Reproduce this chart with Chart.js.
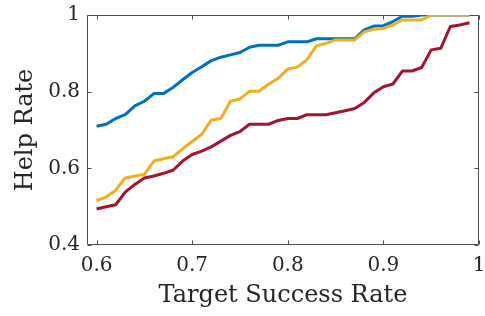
<!DOCTYPE html>
<html>
<head>
<meta charset="utf-8">
<script src="https://cdn.jsdelivr.net/npm/chart.js@4/dist/chart.umd.min.js"></script>
<style>
  html, body { margin: 0; padding: 0; background: #fff; }
  #wrap { width: 485px; height: 316px; }
</style>
</head>
<body>
<div id="wrap"><canvas id="c" width="485" height="316"></canvas></div>
<script>
const targetRate = [0.60,0.61,0.62,0.63,0.64,0.65,0.66,0.67,0.68,0.69,
                    0.70,0.71,0.72,0.73,0.74,0.75,0.76,0.77,0.78,0.79,
                    0.80,0.81,0.82,0.83,0.84,0.85,0.86,0.87,0.88,0.89,
                    0.90,0.91,0.92,0.93,0.94,0.95,0.96,0.97,0.98,0.99];
const blueSeries = [0.710,0.715,0.730,0.740,0.763,0.775,0.795,0.795,0.811,0.831,
                    0.850,0.865,0.881,0.890,0.896,0.902,0.916,0.921,0.921,0.921,
                    0.930,0.930,0.930,0.938,0.938,0.938,0.938,0.938,0.961,0.971,
                    0.972,0.983,0.997,0.997,1.000,1.000,1.000,1.000,1.000,1.000];
const yellowSeries = [0.516,0.525,0.543,0.575,0.580,0.584,0.619,0.625,0.630,0.651,
                      0.670,0.689,0.726,0.730,0.775,0.781,0.801,0.801,0.820,0.835,
                      0.859,0.864,0.883,0.920,0.926,0.935,0.935,0.935,0.956,0.963,
                      0.965,0.974,0.987,0.987,0.987,1.000,1.000,1.000,1.000,1.000];
const redSeries = [0.494,0.500,0.505,0.538,0.558,0.575,0.580,0.587,0.595,0.619,
                   0.636,0.645,0.656,0.671,0.686,0.696,0.715,0.715,0.715,0.725,
                   0.730,0.730,0.740,0.740,0.740,0.745,0.750,0.756,0.772,0.797,
                   0.813,0.820,0.854,0.854,0.863,0.909,0.913,0.970,0.974,0.980];
const xTicks = [0.6, 0.7, 0.8, 0.9, 1];
const yTicks = [0.4, 0.6, 0.8, 1];
const xTitle = 'Target Success Rate';
const yTitle = 'Help Rate';

const FAMILY = '"DejaVu Serif", "Liberation Serif", serif';
const TXT = '#262626';
const AXC = '#4d4d4d';

function fmt(v) { return String(Math.round(v * 10) / 10); }
function pts(ys) { return targetRate.map((x, i) => ({ x: x, y: ys[i] })); }

const boxPlugin = {
  id: 'box',
  beforeDatasetsDraw(chart) {
    const { ctx, chartArea: a, scales } = chart;
    ctx.save();
    ctx.strokeStyle = AXC;
    ctx.lineWidth = 1;
    const L = Math.round(a.left) + 0.5, R = Math.round(a.right) - 0.5;
    const T = Math.round(a.top) + 0.5, B = Math.round(a.bottom) - 0.5;
    ctx.beginPath();
    ctx.rect(L, T, R - L, B - T);
    const tl = 4;
    xTicks.forEach(v => {
      const px = Math.round(scales.x.getPixelForValue(v)) + 0.5;
      ctx.moveTo(px, B); ctx.lineTo(px, B - tl);
      ctx.moveTo(px, T); ctx.lineTo(px, T + tl);
    });
    yTicks.forEach(v => {
      const py = Math.round(scales.y.getPixelForValue(v)) + 0.5;
      ctx.moveTo(L, py); ctx.lineTo(L + tl, py);
      ctx.moveTo(R, py); ctx.lineTo(R - tl, py);
    });
    ctx.stroke();
    ctx.restore();
  }
};

const common = { borderWidth: 3, pointRadius: 0, tension: 0, fill: false,
                 borderJoinStyle: 'round', borderCapStyle: 'butt' };

new Chart(document.getElementById('c'), {
  type: 'line',
  data: {
    datasets: [
      Object.assign({ data: pts(blueSeries), borderColor: '#0072BD', order: 3 }, common),
      Object.assign({ data: pts(yellowSeries), borderColor: '#EDB120', order: 2 }, common),
      Object.assign({ data: pts(redSeries), borderColor: '#A2142F', order: 1 }, common)
    ]
  },
  options: {
    responsive: false,
    animation: false,
    devicePixelRatio: 1,
    layout: { padding: { left: 0, right: 6, top: 15, bottom: 0 } },
    plugins: { legend: { display: false }, tooltip: { enabled: false } },
    scales: {
      x: {
        type: 'linear', min: 0.59, max: 1,
        grid: { display: false, drawTicks: false },
        border: { display: false },
        afterBuildTicks: s => { s.ticks = xTicks.map(v => ({ value: v })); },
        afterFit: s => { s.height = 71; s.paddingLeft = 0; s.paddingRight = 0; },
        ticks: { padding: 9, color: TXT, maxRotation: 0, autoSkip: false,
                 font: { family: FAMILY, size: 20 }, callback: v => fmt(v) },
        title: { display: true, text: xTitle, color: TXT,
                 font: { family: FAMILY, size: 24, lineHeight: 1 },
                 padding: { top: 0, bottom: 8 } }
      },
      y: {
        type: 'linear', min: 0.4, max: 1,
        grid: { display: false, drawTicks: false },
        border: { display: false },
        afterBuildTicks: s => { s.ticks = yTicks.map(v => ({ value: v })); },
        afterFit: s => { s.width = 87; s.paddingTop = 0; s.paddingBottom = 0; },
        ticks: { padding: 7, color: TXT, autoSkip: false,
                 font: { family: FAMILY, size: 20 }, callback: v => fmt(v) },
        title: { display: true, text: yTitle, color: TXT,
                 font: { family: FAMILY, size: 24, lineHeight: 1 },
                 padding: { top: 14, bottom: 0 } }
      }
    }
  },
  plugins: [boxPlugin]
});
</script>
</body>
</html>
